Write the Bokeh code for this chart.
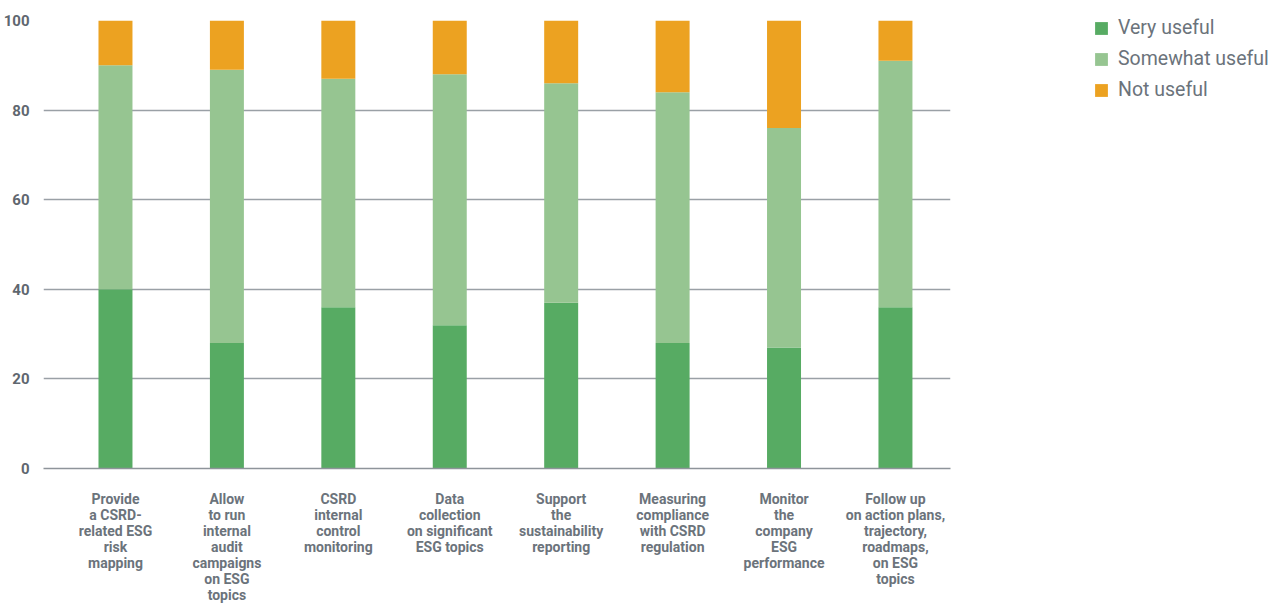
from bokeh.plotting import figure
from bokeh.models import ColumnDataSource, Range1d, FixedTicker, Legend, LegendItem
from bokeh.embed import file_html
from bokeh.resources import INLINE

categories = [
    "Provide\na CSRD-\nrelated ESG\nrisk\nmapping",
    "Allow\nto run\ninternal\naudit\ncampaigns\non ESG\ntopics",
    "CSRD\ninternal\ncontrol\nmonitoring",
    "Data\ncollection\non significant\nESG topics",
    "Support\nthe\nsustainability\nreporting",
    "Measuring\ncompliance\nwith CSRD\nregulation",
    "Monitor\nthe\ncompany\nESG\nperformance",
    "Follow up\non action plans,\ntrajectory,\nroadmaps,\non ESG\ntopics",
]
very_useful = [40, 28, 36, 32, 37, 28, 27, 36]
somewhat_useful = [50, 61, 51, 56, 49, 56, 49, 55]
not_useful = [10, 11, 13, 12, 14, 16, 24, 9]
series_names = ["Very useful", "Somewhat useful", "Not useful"]
colors = ["#57ab63", "#96c591", "#eca221"]
y_ticks = [0, 20, 40, 60, 80, 100]

xs = list(range(len(categories)))
source = ColumnDataSource(dict(x=xs, very=very_useful, somewhat=somewhat_useful, not_=not_useful))

p = figure(frame_width=907, frame_height=448, output_backend="svg", toolbar_location=None,
           x_range=Range1d(-0.646, 7.494), y_range=Range1d(0, 100),
           min_border_left=41, min_border_right=319, min_border_top=20, min_border_bottom=20)
p.outline_line_color = None

rs = p.vbar_stack(["very", "somewhat", "not_"], x="x", width=0.305, color=colors,
                  line_color=None, source=source)

# axes
p.xaxis.ticker = FixedTicker(ticks=xs)
p.xaxis.major_label_overrides = {i: c for i, c in enumerate(categories)}
p.xaxis.major_tick_line_color = None
p.xaxis.minor_tick_line_color = None
p.xaxis.axis_line_color = "#8e949a"
p.xaxis.axis_line_width = 1.5
p.xaxis.major_label_standoff = 16
p.xaxis.major_label_text_font = "Roboto"
p.xaxis.major_label_text_font_size = "14px"
p.xaxis.major_label_text_font_style = "bold"
p.xaxis.major_label_text_color = "#6b737b"
p.xaxis.major_label_text_line_height = 1.0

p.yaxis.ticker = FixedTicker(ticks=y_ticks)
p.yaxis.axis_line_color = None
p.yaxis.major_tick_line_color = None
p.yaxis.minor_tick_line_color = None
p.yaxis.major_label_standoff = 8
p.yaxis.major_label_text_font = "Roboto"
p.yaxis.major_label_text_font_size = "15px"
p.yaxis.major_label_text_font_style = "bold"
p.yaxis.major_label_text_color = "#5f676f"

p.xgrid.grid_line_color = None
p.ygrid.grid_line_color = "#9aa0a6"
p.ygrid.grid_line_width = 1.5

leg = Legend(items=[LegendItem(label=n, renderers=[r]) for n, r in zip(series_names, rs)],
             location=(143, 367))
leg.border_line_color = None
leg.background_fill_alpha = 0
leg.padding = 0
leg.margin = 0
leg.spacing = 8
leg.glyph_width = 16
leg.glyph_height = 16
leg.label_height = 22
leg.label_standoff = 9
leg.label_text_font = "Roboto"
leg.label_text_font_size = "19.5px"
leg.label_text_color = "#6b737b"
p.add_layout(leg, "right")

open("out.html", "w").write(file_html(p, INLINE))
